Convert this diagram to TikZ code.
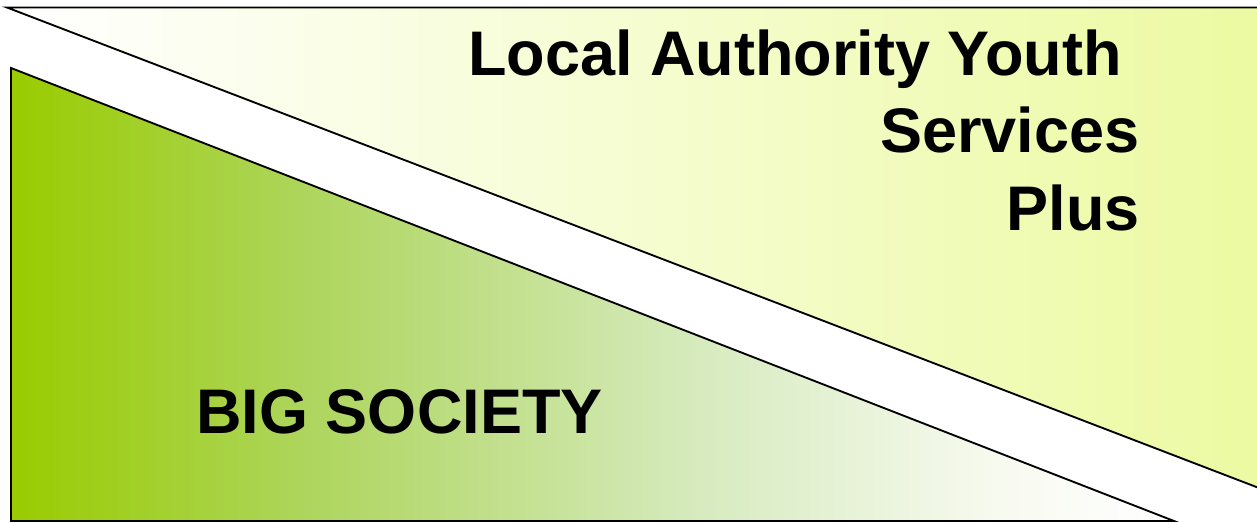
\documentclass[tikz,border=0pt]{standalone}
\usepackage{fontspec}
\setmainfont{Liberation Sans}
\definecolor{bigGreen}{RGB}{153,204,0}
\definecolor{paleLime}{RGB}{236,250,162}
% fade of the lower wedge (the path box spans 25bp..75bp)
\pgfdeclarehorizontalshading{bigSocietyFade}{100bp}{
  rgb(0bp)=(0.60,0.80,0);
  rgb(25bp)=(0.60,0.80,0);
  rgb(37.5bp)=(0.68,0.835,0.36);
  rgb(54.5bp)=(0.84,0.92,0.745);
  rgb(67.5bp)=(0.97,0.98,0.94);
  rgb(75bp)=(1,1,1);
  rgb(100bp)=(1,1,1)}
\tikzset{every picture/.style={line width=0.75pt}}
\tikzset{label text/.style={inner sep=0pt,font=\fontsize{47.25}{57}\selectfont\bfseries,anchor=base east}}

\begin{document}
\begin{tikzpicture}[x=0.75pt,y=0.75pt,yscale=-1,xscale=1]
\useasboundingbox (0,0) rectangle (1257,522);

%Shape: Triangle [id:upperWedge] 
\draw [line width=1.4pt, left color=white, right color=paleLime]  (7,7.5) -- (1259,7.5) -- (1259,488) -- cycle ;
%Shape: Triangle [id:lowerWedge] 
\draw [line width=1.4pt, shading=bigSocietyFade]  (11,68) -- (1174,521) -- (11,521) -- cycle ;

% Text Node
\node [label text] (youth) at (1122,75) {Local Authority Youth};
% Text Node
\node [label text] (services) at (1140,152) {Services};
% Text Node
\node [label text] (plus) at (1140,230) {Plus};
% Text Node
\node [label text,anchor=base west] (bigsoc) at (196,433) {BIG SOCIETY};

\end{tikzpicture}
\end{document}
